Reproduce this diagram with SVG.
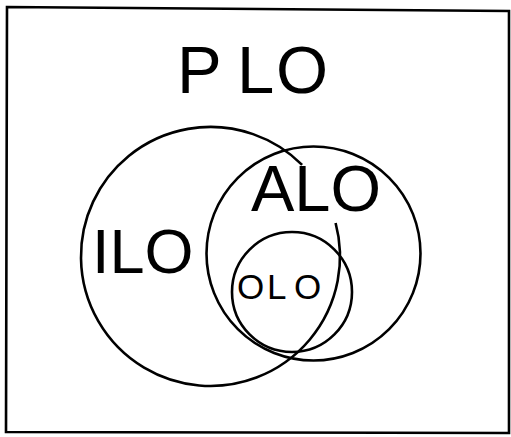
<svg xmlns="http://www.w3.org/2000/svg" width="511" height="437" viewBox="0 0 511 437">
<style>
.ln{fill:none;stroke:#000;stroke-width:2.6}
.lb{font-family:"Liberation Sans",Arial,sans-serif;fill:#000}
</style>
<rect width="511" height="437" fill="#fff"/>
<g id="PLO">
<polygon class="ln" points="7,7 509,11 509,433 6,432"/>
<text class="lb" y="93" font-size="67"><tspan x="177">P</tspan> <tspan x="237">L</tspan><tspan x="276">O</tspan></text>
</g>
<g id="ILO">
<path class="ln" d="M 335.6 223 A 129.5 129.5 0 1 1 302.1 164.9"/>
<text class="lb" x="92" y="273" font-size="63">ILO</text>
</g>
<g id="ALO">
<circle class="ln" cx="313.5" cy="253.5" r="107"/>
<text class="lb" x="251" y="211" font-size="65">ALO</text>
</g>
<g id="OLO">
<circle class="ln" cx="292" cy="292" r="60"/>
<text class="lb" y="299" font-size="35"><tspan x="237">O</tspan><tspan x="267">L</tspan><tspan x="294">O</tspan></text>
</g>
<g id="connectors"/>
</svg>
